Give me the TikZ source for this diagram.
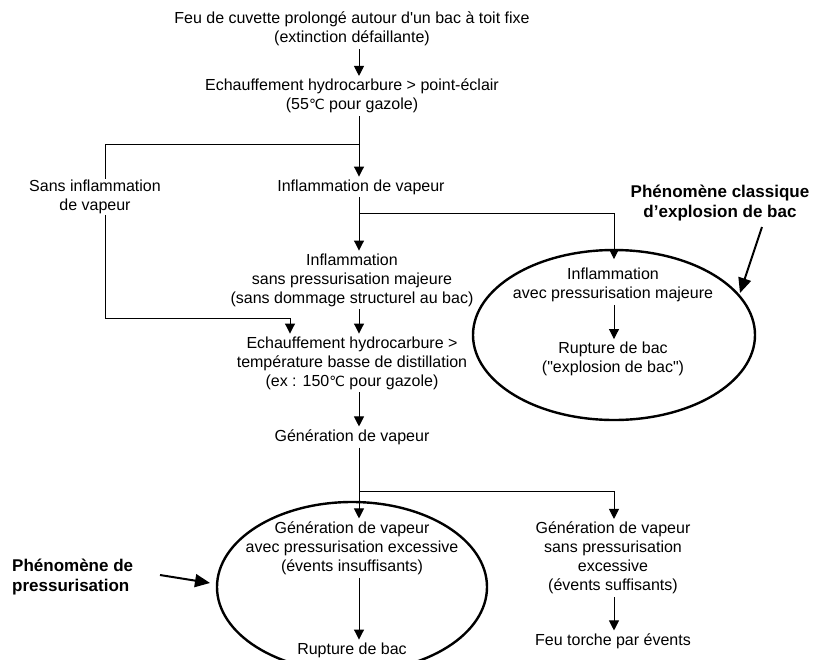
\documentclass[tikz,border=0pt]{standalone}
\usepackage{fontspec}
\newfontfamily\lsans{Liberation Sans}
\newfontfamily\djv{DejaVu Sans}
\newcommand{\degC}{{\djv\fontsize{14}{19}\selectfont ℃}}
\usetikzlibrary{arrows.meta,shapes.geometric}
\begin{document}
\begin{tikzpicture}[x=1pt,y=-1pt,
  txt/.style={font=\lsans\fontsize{16}{19}\selectfont, align=center, inner sep=0pt, outer sep=3pt},
  boldlbl/.style={font=\lsans\bfseries\fontsize{17}{20}\selectfont, inner sep=0pt},
  arr/.style={-{Triangle[length=10pt,width=10pt]}, line width=1pt},
  ln/.style={line width=1pt},
  bigarr/.style={-{Triangle[length=15pt,width=13pt]}, line width=2pt},
  oval/.style={draw, ellipse, line width=2.4pt, inner sep=0pt}
]
\useasboundingbox[fill=white] (0,0) rectangle (816,659);

% ellipses
\node[oval, minimum width=270pt, minimum height=170pt] (e1) at (352,587) {};
\node[oval, minimum width=282pt, minimum height=170pt] (e2) at (614,335) {};

% axes
\coordinate (ax) at (359,0);
\coordinate (axR) at (614,0);
\coordinate (axL) at (105,0);

% text nodes
\node[txt] (n1) at (352,29) {Feu de cuvette prolongé autour d'un bac à toit fixe\\(extinction défaillante)};
\node[txt] (n2) at (352,96) {Echauffement hydrocarbure > point-éclair\\(55\degC{} pour gazole)};
\node[txt, outer sep=1pt] (n3) at (95,197) {Sans inflammation\\de vapeur};
\node[txt] (n4) at (361,187) {Inflammation de vapeur};
\node[txt] (n5) at (352,280) {Inflammation\\sans pressurisation majeure\\(sans dommage structurel au bac)};
\node[txt] (n6) at (352,363) {Echauffement hydrocarbure >\\température basse de distillation\\(ex : 150\degC{} pour gazole)};
\node[txt] (n7) at (352,437) {Génération de vapeur};
\node[txt] (n8) at (352,548) {Génération de vapeur\\avec pressurisation excessive\\(évents insuffisants)};
\node[txt] (n9) at (352,650) {Rupture de bac};
\node[txt] (n10) at (613,558) {Génération de vapeur\\sans pressurisation\\excessive\\(évents suffisants)};
\node[txt] (n11) at (613,641) {Feu torche par évents};
\node[txt] (n12) at (613,285) {Inflammation\\avec pressurisation majeure};
\node[txt] (n13) at (613,359) {Rupture de bac\\("explosion de bac")};

\node[boldlbl, align=center] (L1) at (720,203) {Phénomène classique\\d’explosion de bac};
\node[boldlbl, align=left, anchor=west] (L2) at (12,577) {Phénomène de\\pressurisation};

% branch points
\coordinate (b1) at (359,144);
\coordinate (b2) at (359,213);
\coordinate (b3) at (359,491);
\coordinate (c1) at (290,318);

% connectors
\draw[arr] (n1.south -| ax) -- (n2.north -| ax);
\draw[arr] (n2.south -| ax) -- (n4.north -| ax);
\draw[ln] (b1) -| (n3.north -| axL);
\draw[arr] (n3.south -| axL) |- (c1) -- (n6.north -| c1);
\draw[arr] (n4.south -| ax) -- (n5.north -| ax);
\draw[arr] (b2) -| ([yshift=6pt]n12.north -| axR);
\draw[arr] (n12.south -| axR) -- (n13.north -| axR);
\draw[arr] (n5.south -| ax) -- (n6.north -| ax);
\draw[arr] (n6.south -| ax) -- (n7.north -| ax);
\draw[arr] (n7.south -| ax) -- (n8.north -| ax);
\draw[arr] (b3) -| (n10.north -| axR);
\draw[arr] (n8.south -| ax) -- (n9.north -| ax);
\draw[arr] (n10.south -| axR) -- (n11.north -| axR);

% pointer arrows
\coordinate (p1) at (762,227);
\coordinate (p2) at (740,293);
\coordinate (q1) at (160,575);
\coordinate (q2) at (210,583);
\draw[bigarr] (p1) -- (p2);
\draw[bigarr] (q1) -- (q2);
\end{tikzpicture}
\end{document}
